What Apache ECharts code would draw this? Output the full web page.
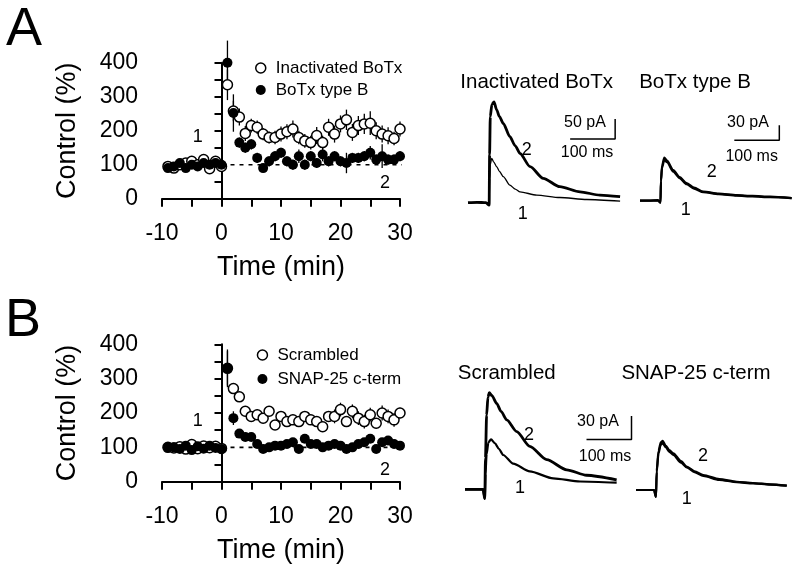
<!DOCTYPE html>
<html>
<head>
<meta charset="utf-8">
<script src="https://cdn.jsdelivr.net/npm/echarts@6/dist/echarts.min.js"></script>
<style>
html, body { margin: 0; padding: 0; background: #fff; }
#main { width: 800px; height: 574px; }
</style>
</head>
<body>
<div id="main"></div>
<script>
// time points (min)
var timeMin = [-9, -8, -7, -6, -5, -4, -3, -2, -1, 0,
    1, 2, 3, 4, 5, 6, 7, 8, 9, 10, 11, 12, 13, 14, 15, 16, 17, 18, 19, 20,
    21, 22, 23, 24, 25, 26, 27, 28, 29, 30];

// panel A
var inactMean = [95, 90, 100, 105, 110, 100, 115, 88, 110, 95,
    335, 258, 240, 192, 215, 210, 190, 180, 180, 190, 197, 205, 180, 170, 165, 186, 165, 210, 190, 220,
    232, 195, 215, 220, 222, 200, 190, 185, 177, 205];
var inactErr = [8, 8, 8, 8, 8, 8, 8, 8, 8, 8,
    45, 30, 25, 22, 20, 20, 18, 18, 20, 22, 22, 25, 20, 20, 20, 25, 20, 25, 25, 25,
    30, 25, 28, 30, 35, 25, 25, 25, 20, 22];
var botxMean = [90, 95, 105, 90, 100, 95, 105, 100, 105, 100,
    400, 252, 165, 150, 160, 120, 90, 110, 125, 135, 110, 100, 125, 100, 125, 105, 130, 110, 125, 110,
    105, 120, 120, 125, 135, 115, 125, 115, 115, 125];
var botxErr = [8, 8, 8, 8, 8, 8, 8, 8, 8, 8,
    65, 55, 15, 15, 15, 15, 12, 15, 15, 15, 15, 15, 20, 15, 15, 15, 20, 15, 15, 15,
    30, 15, 15, 15, 20, 15, 35, 15, 15, 15];

// panel B
var scramMean = [100, 98, 102, 95, 108, 96, 104, 99, 103, 97,
    330, 271, 247, 205, 190, 195, 185, 205, 165, 190, 175, 180, 175, 190, 180, 175, 160, 190, 190, 210,
    175, 205, 185, 175, 195, 170, 200, 190, 180, 200];
var scramErr = [8, 8, 8, 8, 8, 8, 8, 8, 8, 8,
    50, 15, 15, 15, 15, 15, 15, 15, 12, 15, 15, 15, 15, 15, 15, 15, 15, 15, 20, 20,
    15, 20, 20, 20, 20, 15, 22, 20, 20, 15];
var snapMean = [100, 100, 95, 105, 92, 103, 96, 105, 98, 95,
    330, 185, 140, 130, 130, 110, 95, 100, 105, 105, 110, 115, 95, 125, 110, 110, 100, 105, 110, 105,
    95, 100, 110, 115, 125, 95, 115, 120, 110, 105];
var snapErr = [8, 8, 8, 8, 8, 8, 8, 8, 8, 8,
    55, 20, 10, 10, 10, 10, 10, 10, 10, 10, 10, 10, 10, 10, 10, 10, 10, 10, 10, 10,
    10, 10, 10, 10, 10, 10, 10, 10, 10, 10];

var refX = [0, 31.7];
var refY = [100, 100];

// traces: [ms, pA]
var inactTrace2 = [[0, 0], [20, 1], [40, 0], [47, -6], [48, 120], [49.5, 215], [53, 245], [57.8, 252],
    [63.7, 232], [70, 215], [78.5, 198], [93, 165], [105, 142], [115.6, 123], [138, 90], [167, 61],
    [204, 40], [249, 27], [293, 19], [338, 15]];
var inactTrace1 = [[0, 0], [20, 0], [40, 0], [47, -6], [48, 60], [49.5, 95], [52.6, 111], [57, 102],
    [63.7, 90], [70, 78], [78.5, 65], [93, 44], [105, 34], [115.6, 27], [152.6, 19], [204, 13],
    [264, 8], [338, 4]];
var botxTrace2 = [[0, 0], [20, 0], [40, 1], [45.5, -4], [46.5, 40], [49, 70], [54, 86], [60, 80],
    [74, 61], [88, 47], [103.7, 35], [120, 26], [140.7, 18], [175, 14], [215, 11], [250, 9.5],
    [289, 8], [337, 5]];
var botxTrace1 = [[0, 0], [20, 0], [40, 0], [45.5, -4], [46.5, 38], [49, 66], [54, 82], [60, 77],
    [74, 58], [88, 45], [103.7, 33], [120, 24], [140.7, 17], [175, 13], [215, 10], [250, 8.5],
    [289, 7], [337, 5]];
var scramTrace2 = [[0, 0], [20, 0], [40, 0], [44, -12], [45.5, 40], [48, 95], [51, 118], [54, 124],
    [60, 120], [70.4, 110], [80, 100], [92.7, 89], [115, 74], [144, 55], [181.6, 38], [226, 25],
    [270, 18], [337, 12]];
var scramTrace1 = [[0, 0], [20, 0], [40, 0], [44, -12], [45.5, 20], [48, 45], [52, 60], [57.8, 64],
    [66.7, 59], [75, 52], [85, 44], [107, 33], [144, 23], [196, 14], [255.6, 10], [337, 8.5]];
var snapTrace2 = [[0, 0], [20, 0], [40, 0], [44.4, -9], [46, 25], [50, 50], [55, 61], [59.3, 63],
    [66, 57], [74, 51], [83, 47], [100, 37], [112.7, 30], [130, 24], [149.6, 19], [185, 14],
    [223.8, 10.6], [260, 9], [297.8, 7.3], [335, 5.5]];
var snapTrace1 = [[0, 0], [20, 0], [40, 0], [44.4, -9], [46, 23], [50, 47], [55, 58], [59.3, 60],
    [66, 55], [74, 49], [83, 45], [100, 35], [112.7, 29], [130, 23], [149.6, 18], [185, 13],
    [223.8, 10], [260, 8.5], [297.8, 7], [335, 5.5]];

// scale bars: [ms, pA]
var barA1 = [[227, 159], [327, 159], [327, 209]];
var barA2 = [[209.6, 121], [309.6, 121], [309.6, 151]];
var barB1 = [[270, 64], [370, 64], [370, 94]];

var FONT = '"Liberation Sans", Arial, sans-serif';

function pairs(xs, ys) {
    return xs.map(function (x, i) { return [x, ys[i]]; });
}

function errorBars(xs, ys, es, idx) {
    return {
        type: 'custom',
        xAxisIndex: idx,
        yAxisIndex: idx,
        silent: true,
        z: 1,
        data: xs.map(function (x, i) { return [x, ys[i] - es[i], ys[i] + es[i]]; }),
        encode: { x: 0, y: [1, 2] },
        renderItem: function (params, api) {
            var lo = api.coord([api.value(0), api.value(1)]);
            var hi = api.coord([api.value(0), api.value(2)]);
            return {
                type: 'line',
                shape: { x1: lo[0], y1: lo[1], x2: hi[0], y2: hi[1] },
                style: { stroke: '#000', lineWidth: 1.3 }
            };
        }
    };
}

function dots(name, xs, ys, open, idx) {
    return {
        name: name,
        type: 'scatter',
        xAxisIndex: idx,
        yAxisIndex: idx,
        symbol: 'circle',
        symbolSize: 10,
        clip: false,
        z: open ? 3 : 4,
        itemStyle: open
            ? { color: '#fff', borderColor: '#000', borderWidth: 1.5, opacity: 1 }
            : { color: '#000', opacity: 1 },
        data: pairs(xs, ys)
    };
}

function refLine(idx) {
    return {
        type: 'line',
        xAxisIndex: idx,
        yAxisIndex: idx,
        silent: true,
        clip: false,
        symbol: 'none',
        z: 0,
        lineStyle: { color: '#000', width: 1.6, type: [4, 5] },
        data: pairs(refX, refY)
    };
}

function trace(data, idx, w) {
    return {
        type: 'line',
        xAxisIndex: idx,
        yAxisIndex: idx,
        silent: true,
        clip: false,
        symbol: 'none',
        smooth: 0.25,
        smoothMonotone: 'x',
        lineStyle: { color: '#000', width: w },
        data: data
    };
}

function bar(data, idx) {
    return {
        type: 'line',
        xAxisIndex: idx,
        yAxisIndex: idx,
        silent: true,
        clip: false,
        symbol: 'none',
        lineStyle: { color: '#000', width: 1.5 },
        data: data
    };
}

function timeAxis(idx) {
    return {
        gridIndex: idx, type: 'value', min: -10, max: 30, interval: 5, offset: 10.5,
        axisLine: { lineStyle: { color: '#000', width: 2 } },
        axisTick: { length: 8, lineStyle: { color: '#000', width: 2 } },
        axisLabel: {
            color: '#000', fontSize: 23, margin: 13, fontFamily: FONT,
            formatter: function (v) { return v % 10 === 0 ? String(v) : ''; }
        },
        splitLine: { show: false },
        name: 'Time (min)', nameLocation: 'middle', nameGap: 45,
        nameTextStyle: { color: '#000', fontSize: 27, fontFamily: FONT }
    };
}

function pctAxis(idx) {
    return {
        gridIndex: idx, type: 'value', min: 0, max: 400, interval: 50, offset: 15,
        axisLine: { show: true, lineStyle: { color: '#000', width: 2 } },
        axisTick: { show: true, length: 7, lineStyle: { color: '#000', width: 2 } },
        axisLabel: {
            color: '#000', fontSize: 23, margin: 9, fontFamily: FONT,
            formatter: function (v) { return v % 100 === 0 ? String(v) : ''; }
        },
        splitLine: { show: false },
        name: 'Control (%)', nameLocation: 'middle', nameGap: 66, nameRotate: 90,
        nameTextStyle: { color: '#000', fontSize: 27, fontFamily: FONT }
    };
}

function hiddenAxis(idx, min, max) {
    return { gridIndex: idx, type: 'value', min: min, max: max, show: false, splitLine: { show: false } };
}

function label(text, x, y, size, align) {
    return {
        type: 'text', x: x, y: y, silent: true,
        style: { text: text, fill: '#000', font: size + 'px ' + FONT, textAlign: align || 'center', textVerticalAlign: 'middle' }
    };
}

var option = {
    backgroundColor: '#fff',
    animation: false,
    textStyle: { fontFamily: FONT },
    grid: [
        { left: 162, top: 62.7, width: 238, height: 136 },
        { left: 162, top: 344.3, width: 238, height: 137.4 },
        { left: 468, top: 94.7, width: 153, height: 120 },
        { left: 640, top: 100.7, width: 153, height: 110 },
        { left: 465, top: 387.9, width: 171, height: 117 },
        { left: 636, top: 412, width: 153, height: 93.6 }
    ],
    xAxis: [
        timeAxis(0), timeAxis(1),
        hiddenAxis(2, 0, 340), hiddenAxis(3, 0, 340), hiddenAxis(4, 0, 380), hiddenAxis(5, 0, 340)
    ],
    yAxis: [
        pctAxis(0), pctAxis(1),
        hiddenAxis(2, -30, 270), hiddenAxis(3, -20, 200), hiddenAxis(4, -20, 130), hiddenAxis(5, -20, 100)
    ],
    legend: [
        {
            orient: 'vertical', left: 255, top: 59.5, padding: 0, itemWidth: 10, itemHeight: 10, itemGap: 5,
            selectedMode: false, icon: 'circle',
            textStyle: { color: '#000', fontSize: 17, fontFamily: FONT, padding: [0, 0, 0, 5] },
            data: [
                { name: 'Inactivated BoTx', itemStyle: { color: '#fff', borderColor: '#000', borderWidth: 1.5 } },
                { name: 'BoTx type B', itemStyle: { color: '#000' } }
            ]
        },
        {
            orient: 'vertical', left: 256.7, top: 346.5, padding: 0, itemWidth: 10, itemHeight: 10, itemGap: 7,
            selectedMode: false, icon: 'circle',
            textStyle: { color: '#000', fontSize: 17, fontFamily: FONT, padding: [0, 0, 0, 5] },
            data: [
                { name: 'Scrambled', itemStyle: { color: '#fff', borderColor: '#000', borderWidth: 1.5 } },
                { name: 'SNAP-25 c-term', itemStyle: { color: '#000' } }
            ]
        }
    ],
    series: [
        refLine(0),
        errorBars(timeMin, inactMean, inactErr, 0),
        errorBars(timeMin, botxMean, botxErr, 0),
        dots('Inactivated BoTx', timeMin, inactMean, true, 0),
        dots('BoTx type B', timeMin, botxMean, false, 0),

        refLine(1),
        errorBars(timeMin, scramMean, scramErr, 1),
        errorBars(timeMin, snapMean, snapErr, 1),
        dots('Scrambled', timeMin, scramMean, true, 1),
        dots('SNAP-25 c-term', timeMin, snapMean, false, 1),

        trace(inactTrace1, 2, 1.3),
        trace(inactTrace2, 2, 2.8),
        bar(barA1, 2),
        trace(botxTrace1, 3, 2.2),
        trace(botxTrace2, 3, 2.2),
        bar(barA2, 3),
        trace(scramTrace1, 4, 2.2),
        trace(scramTrace2, 4, 2.8),
        bar(barB1, 4),
        trace(snapTrace1, 5, 2.2),
        trace(snapTrace2, 5, 2.2)
    ],
    graphic: [
        label('A', 24, 30, 54),
        label('B', 23, 321, 54),
        label('1', 197.7, 136.7, 18),
        label('2', 385, 183.3, 18),
        label('1', 197.7, 421, 18),
        label('2', 385, 470, 18),
        label('Inactivated BoTx', 536.7, 82, 20.5),
        label('BoTx type B', 695, 82, 20.5),
        label('50 pA', 585, 123, 16),
        label('100 ms', 587, 153, 16),
        label('2', 526.7, 150, 18),
        label('1', 522.7, 214, 18),
        label('30 pA', 748, 123, 16),
        label('100 ms', 751.7, 156.7, 16),
        label('2', 711.7, 171.7, 18),
        label('1', 685.7, 210, 18),
        label('Scrambled', 506.7, 373.3, 20.5),
        label('SNAP-25 c-term', 696, 373.3, 20.5),
        label('30 pA', 598, 421.7, 16),
        label('100 ms', 605, 456.7, 16),
        label('2', 529, 435, 18),
        label('1', 520, 488, 18),
        label('2', 703, 456, 18),
        label('1', 686.7, 499, 18)
    ]
};

var chart = echarts.init(document.getElementById('main'));
chart.setOption(option);
</script>
</body>
</html>
